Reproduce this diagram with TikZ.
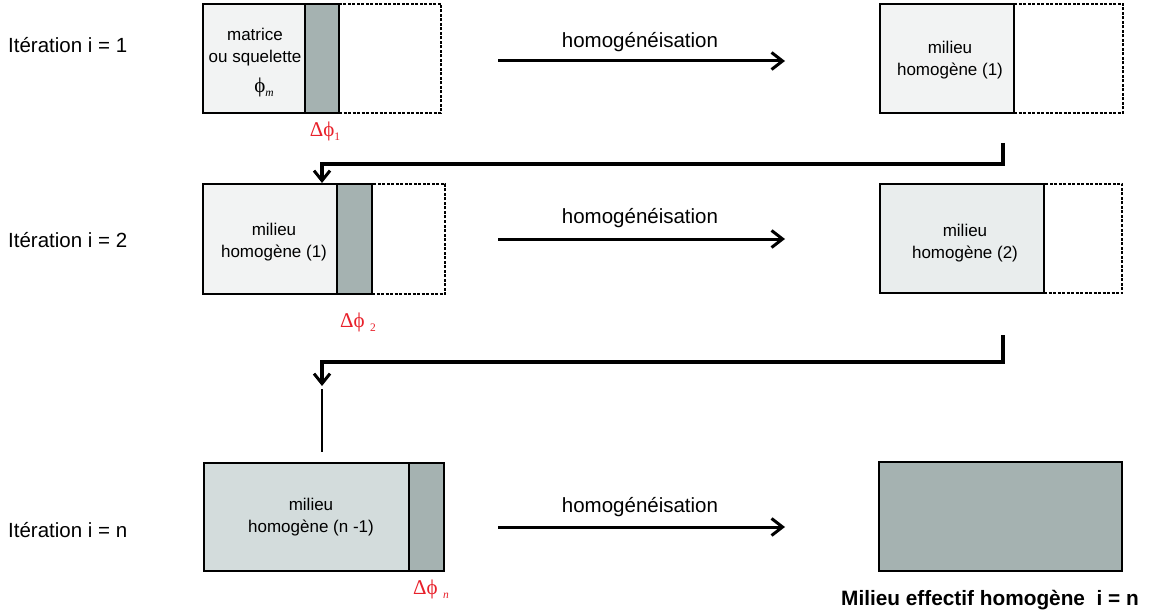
\documentclass[tikz,border=0pt]{standalone}
\usepackage{fontspec}
\setmainfont{Liberation Sans}
\newfontfamily\grk{Liberation Serif}
\usetikzlibrary{arrows.meta}
\definecolor{fillA}{HTML}{F2F3F3}
\definecolor{fillB}{HTML}{E9EDED}
\definecolor{fillC}{HTML}{D3DCDC}
\definecolor{stripc}{HTML}{A5B2B1}
\definecolor{redlbl}{HTML}{E8202A}
\tikzset{
  cell/.style={draw=black, line width=2.5pt, inner sep=0pt, rectangle},
  ghost/.style={draw=black, line width=1.4pt, dash pattern=on 3pt off 1.5pt, inner sep=0pt, rectangle},
  flow/.style={line width=3pt, -{Straight Barb[length=11pt,width=17pt,line width=3pt]}},
  conn/.style={line width=3.2pt, line join=miter, -{Straight Barb[length=10pt,width=16pt,line width=3pt]}},
  itlbl/.style={font=\fontsize{20.5}{24}\selectfont, anchor=west, inner sep=0pt},
  homlbl/.style={font=\fontsize{20.5}{24}\selectfont, inner sep=0pt},
  boxtxt/.style={font=\fontsize{17}{22}\selectfont, align=center, inner sep=0pt},
  dphi/.style={font=\fontsize{21}{22}\selectfont\grk, text=redlbl, inner sep=0pt}
}
\newcommand{\subs}[1]{\raisebox{-0.45ex}{\fontsize{11.5}{11.5}\selectfont #1}}
\begin{document}
\begin{tikzpicture}[x=1pt,y=-1pt]
\useasboundingbox (0,0) rectangle (1152,615);

% ---------- row 1 ----------
\node[ghost, minimum width=102pt, minimum height=109pt] (G1) at (390,58.5) {};
\node[cell, fill=fillA, minimum width=102pt, minimum height=109pt] (L1) at (254,58.5) {};
\node[cell, fill=stripc, minimum width=34pt, minimum height=109pt] (S1) at (322,58.5) {};
\node[boxtxt] (L1t) at (255,47.5) {matrice\\ou squelette};
\node[font=\fontsize{21}{22}\selectfont\grk, inner sep=0pt] (L1p) at (264,87) {ϕ\subs{\itshape m}};
\node[dphi] (D1) at (325,131) {Δϕ\subs{1}};

\node[ghost, minimum width=109pt, minimum height=109pt] (RG1) at (1068.5,58.5) {};
\node[cell, fill=fillA, minimum width=134pt, minimum height=109pt] (R1) at (947,58.5) {};
\node[boxtxt] (R1t) at (950,60) {milieu\\homogène (1)};

\coordinate (a1s) at (498,61);
\coordinate (a1e) at (785,61);
\draw[flow] (a1s) -- (a1e);
\node[homlbl] (h1) at (640,42) {homogénéisation};
\node[itlbl] (it1) at (8,45) {Itération i = 1};

% connector 1
\coordinate (k1) at (1003,143);
\coordinate (m1) at (0,164);
\coordinate (t1) at (322,183);
\draw[conn] (k1) -- (k1 |- m1) -| (t1);

% ---------- row 2 ----------
\node[ghost, minimum width=73pt, minimum height=110pt] (G2) at (408.5,239) {};
\node[cell, fill=fillA, minimum width=134pt, minimum height=110pt] (L2) at (270,239) {};
\node[cell, fill=stripc, minimum width=35pt, minimum height=110pt] (S2) at (354.5,239) {};
\node[boxtxt] (L2t) at (274,242) {milieu\\homogène (1)};
\node[dphi] (D2) at (358,322) {Δϕ \subs{2}};

\node[ghost, minimum width=78pt, minimum height=109pt] (RG2) at (1083,238.5) {};
\node[cell, fill=fillB, minimum width=164pt, minimum height=109pt] (R2) at (962,238.5) {};
\node[boxtxt] (R2t) at (965,243) {milieu\\homogène (2)};

\coordinate (a2s) at (498,239);
\coordinate (a2e) at (785,239);
\draw[flow] (a2s) -- (a2e);
\node[homlbl] (h2) at (640,218) {homogénéisation};
\node[itlbl] (it2) at (8,240) {Itération i = 2};

% connector 2
\coordinate (k2) at (1003,335);
\coordinate (m2) at (0,362);
\coordinate (t2) at (322,386);
\draw[conn] (k2) -- (k2 |- m2) -| (t2);
\coordinate (d1) at (322,389);
\coordinate (d2) at (322,452);
\draw[line width=1.2pt] (d1) -- (d2);

% ---------- row n ----------
\node[cell, fill=fillC, minimum width=205pt, minimum height=108pt] (L3) at (306.5,517) {};
\node[cell, fill=stripc, minimum width=35pt, minimum height=108pt] (S3) at (426.5,517) {};
\node[boxtxt] (L3t) at (311,517) {milieu\\homogène (n -1)};
\node[dphi] (D3) at (431,589) {Δϕ \subs{\itshape n}};

\node[cell, fill=stripc, minimum width=243pt, minimum height=109pt] (R3) at (1000.5,516.5) {};
\node[font=\fontsize{20.8}{24}\selectfont\bfseries, inner sep=0pt] (R3t) at (990,600) {Milieu effectif homogène\ \ i = n};

\coordinate (a3s) at (498,527);
\coordinate (a3e) at (785,527);
\draw[flow] (a3s) -- (a3e);
\node[homlbl] (h3) at (640,507) {homogénéisation};
\node[itlbl] (it3) at (8,530) {Itération i = n};
\end{tikzpicture}
\end{document}
